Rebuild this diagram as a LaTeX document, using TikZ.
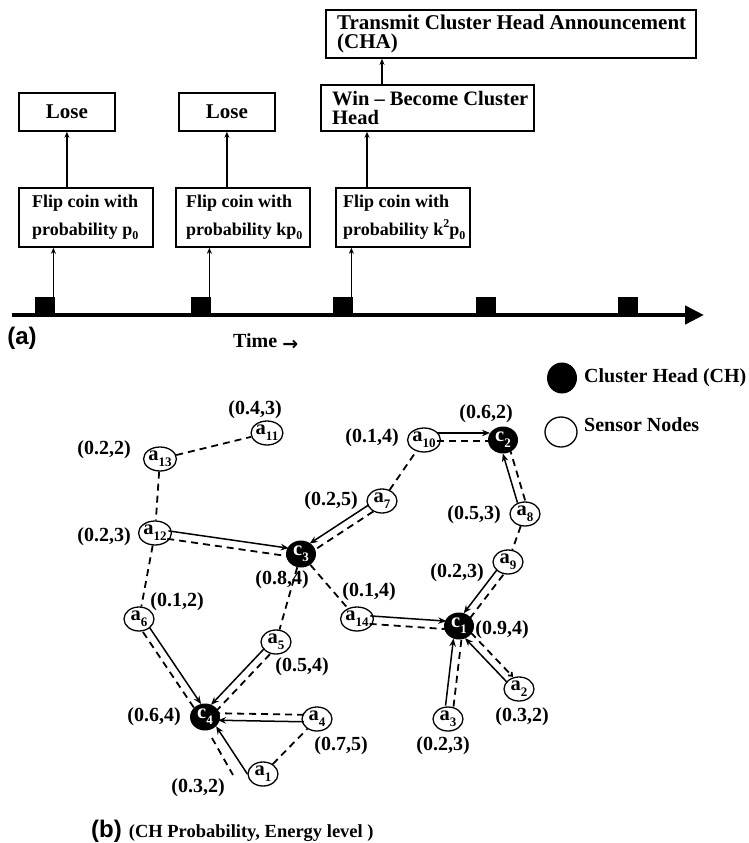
\documentclass[tikz,border=0pt]{standalone}
\usepackage{fontspec}
\setmainfont{Liberation Serif}
\newfontfamily\labfont{Liberation Sans}
\newfontfamily\arrfont{DejaVu Sans}
\usetikzlibrary{arrows.meta,calc,shapes.geometric}
\newcommand\lowtxt[1]{\raisebox{-0.28em}{\fontsize{13}{13}\selectfont #1}}
\newcommand\smlow[1]{\raisebox{-0.25em}{\fontsize{12}{12}\selectfont #1}}
\newcommand\smhigh[1]{\raisebox{0.42em}{\fontsize{12}{12}\selectfont #1}}
\begin{document}
\begin{tikzpicture}[x=1pt,y=1pt,
  box/.style={draw,line width=1.8pt,anchor=north west,inner sep=0pt},
  btxt/.style={inner sep=0pt,align=left,anchor=west},
  sq/.style={fill=black,minimum width=19.5pt,minimum height=18pt,inner sep=0pt,anchor=south west},
  uparr/.style={line width=1.4pt,-{Stealth[length=6pt,width=5pt]}},
  sensor/.style={ellipse,draw,line width=1.3pt,fill=white,minimum width=30pt,minimum height=24pt,inner sep=0pt,font=\fontsize{20.5}{20.5}\selectfont\bfseries},
  ch/.style={ellipse,fill=black,text=white,minimum width=30pt,minimum height=27pt,inner sep=0pt,font=\fontsize{20.5}{20.5}\selectfont\bfseries},
  lab/.style={inner sep=0pt,font=\fontsize{20}{20}\selectfont\bfseries},
  legtxt/.style={inner sep=0pt,anchor=west,font=\fontsize{20}{20}\selectfont\bfseries},
  leftpath/.style={to path={($(\tikztostart)!#1!90:(\tikztotarget)$) -- ($(\tikztotarget)!#1!-90:(\tikztostart)$)}},
  rightpath/.style={to path={($(\tikztostart)!#1!-90:(\tikztotarget)$) -- ($(\tikztotarget)!#1!90:(\tikztostart)$)}},
  sarr/.style={line width=1.5pt,-{Stealth[length=8pt,width=6.5pt]},shorten <=13pt,shorten >=13pt},
  dline/.style={line width=1.8pt,dash pattern=on 7pt off 5pt},
  dpair/.style={dline,shorten <=13pt,shorten >=13pt}
]
\useasboundingbox (0,0) rectangle (749,-843);

% ---------- part (a) ----------
\node[box,minimum width=370pt,minimum height=48pt] (trans) at (325,-9) {};
\node[btxt,font=\fontsize{21}{19.5}\selectfont\bfseries] (transt) at ([xshift=12pt]trans.west) {Transmit Cluster Head Announcement\\(CHA)};
\node[box,minimum width=213pt,minimum height=46pt] (win) at (320,-84) {};
\node[btxt,font=\fontsize{20.5}{19}\selectfont\bfseries] (wint) at ([xshift=12pt]win.west) {Win -- Become Cluster\\Head};
\node[box,minimum width=96pt,minimum height=38pt,font=\fontsize{21}{21}\selectfont\bfseries] (lose1) at (18,-92) {Lose};
\node[box,minimum width=96pt,minimum height=38pt,font=\fontsize{21}{21}\selectfont\bfseries] (lose2) at (178,-92) {Lose};
\node[box,minimum width=134pt,minimum height=59pt] (flip1) at (18,-187) {};
\node[box,minimum width=134pt,minimum height=59pt] (flip2) at (175,-187) {};
\node[box,minimum width=134pt,minimum height=59pt] (flip3) at (335,-187) {};
\node[btxt,font=\fontsize{18}{28}\selectfont\bfseries] (flip1t) at ([xshift=14pt]flip1.west) {Flip coin with\\probability p\smlow{0}};
\node[btxt,font=\fontsize{18}{28}\selectfont\bfseries] (flip2t) at ([xshift=11pt]flip2.west) {Flip coin with\\probability kp\smlow{0}};
\node[btxt,font=\fontsize{18}{28}\selectfont\bfseries] (flip3t) at ([xshift=8pt]flip3.west) {Flip coin with\\probability k\smhigh{2}p\smlow{0}};

\coordinate (t0) at (12,-315);
\coordinate (t1) at (704,-315);
\draw[line width=4.5pt,-{Triangle[length=19pt,width=18pt]}] (t0) -- (t1);
\node[sq] (s1) at (35,-315) {};
\node[sq] (s2) at (191,-315) {};
\node[sq] (s3) at (333,-315) {};
\node[sq] (s4) at (476,-315) {};
\node[sq] (s5) at (618,-315) {};

\draw[uparr] ([xshift=-1.5pt]s1.north east) -- ([xshift=-1.5pt]s1.north east |- flip1.south);
\draw[uparr] ([xshift=-1.5pt]s2.north east) -- ([xshift=-1.5pt]s2.north east |- flip2.south);
\draw[uparr] ([xshift=-1.5pt]s3.north east) -- ([xshift=-1.5pt]s3.north east |- flip3.south);
\draw[uparr] (lose1.south |- flip1.north) -- (lose1.south);
\draw[uparr] (lose2.south |- flip2.north) -- (lose2.south);
\draw[uparr] ([xshift=32pt]flip3.north west) -- ([xshift=32pt]flip3.north west |- win.south);
\draw[uparr] ([xshift=62pt]win.north west) -- ([xshift=62pt]win.north west |- trans.south);

\node[inner sep=0pt,font=\labfont\bfseries\fontsize{24}{24}\selectfont] (alab) at (22,-338) {(a)};
\node[inner sep=0pt,anchor=base west,font=\fontsize{20}{20}\selectfont\bfseries] (time) at (233,-347) {Time \raisebox{-3pt}{\arrfont\bfseries\fontsize{19}{19}\selectfont →}};

% ---------- legend ----------
\node[ch,minimum width=30pt,minimum height=31pt] (legch) at (562,-378) {};
\node[legtxt] (legcht) at (584,-378) {Cluster Head (CH)};
\node[sensor,minimum width=32pt,minimum height=30pt] (legsn) at (561,-432) {};
\node[legtxt] (legsnt) at (584,-425) {Sensor Nodes};

% ---------- part (b) nodes ----------
\node[sensor] (a11) at (267,-433) {a\lowtxt{11}};
\node[sensor] (a13) at (160,-459) {a\lowtxt{13}};
\node[sensor] (a12) at (155,-533) {a\lowtxt{12}};
\node[ch] (c3) at (301,-554) {c\lowtxt{3}};
\node[sensor] (a7) at (382,-501) {a\lowtxt{7}};
\node[sensor] (a10) at (424,-440) {a\lowtxt{10}};
\node[ch] (c2) at (503,-440) {c\lowtxt{2}};
\node[sensor] (a8) at (525,-514) {a\lowtxt{8}};
\node[sensor] (a9) at (508,-562) {a\lowtxt{9}};
\node[ch] (c1) at (459,-626) {c\lowtxt{1}};
\node[sensor] (a14) at (357,-619) {a\lowtxt{14}};
\node[sensor] (a6) at (139,-619) {a\lowtxt{6}};
\node[sensor] (a5) at (276,-642) {a\lowtxt{5}};
\node[ch] (c4) at (205,-717) {c\lowtxt{4}};
\node[sensor] (a4) at (317,-719) {a\lowtxt{4}};
\node[sensor] (a1) at (263,-774) {a\lowtxt{1}};
\node[sensor] (a3) at (448,-719) {a\lowtxt{3}};
\node[sensor] (a2) at (519,-689) {a\lowtxt{2}};

% ---------- labels ----------
\node[lab] (l11) at (255,-410) {(0.4,3)};
\node[lab] (l13) at (104,-450) {(0.2,2)};
\node[lab] (l12) at (104,-537) {(0.2,3)};
\node[lab] (l6) at (177,-602) {(0.1,2)};
\node[lab] (lc3) at (282,-580) {(0.8,4)};
\node[lab] (l7) at (331,-501) {(0.2,5)};
\node[lab] (l10) at (372,-438) {(0.1,4)};
\node[lab] (lc2) at (486,-414) {(0.6,2)};
\node[lab] (l8) at (474,-515) {(0.5,3)};
\node[lab] (l9) at (457,-573) {(0.2,3)};
\node[lab] (l14) at (369,-592) {(0.1,4)};
\node[lab] (lc1) at (502,-630) {(0.9,4)};
\node[lab] (l5) at (302,-667) {(0.5,4)};
\node[lab] (lc4) at (154,-717) {(0.6,4)};
\node[lab] (l4) at (341,-746) {(0.7,5)};
\node[lab] (l1) at (198,-788) {(0.3,2)};
\node[lab] (l3) at (443,-746) {(0.2,3)};
\node[lab] (l2) at (522,-717) {(0.3,2)};

\node[inner sep=0pt,anchor=west] (blab) at (91,-831) {{\labfont\bfseries\fontsize{24}{24}\selectfont (b)}\hspace{7pt}{\fontsize{18.5}{18.5}\selectfont\bfseries (CH Probability, Energy level )}};

% ---------- dashed-only links ----------
\draw[dline] (a13) -- (a11);
\draw[dline] (a13) -- (a12);
\draw[dline] (a12) -- (a6);
\draw[dline] (a7) -- (a10);
\draw[dline] (a8) -- (a9);
\draw[dline] (c3) -- (a14);
\draw[dline] (c3) -- (a5);
\draw[dline] (a1) -- (a4);

% ---------- solid arrow + dashed pairs ----------
\draw[sarr] (a12) to[leftpath=4pt] (c3);
\draw[dpair] (a12) to[rightpath=4pt] (c3);
\draw[sarr] (a7) to[rightpath=4pt] (c3);
\draw[dpair] (a7) to[leftpath=4pt] (c3);
\draw[sarr] (a10) to[leftpath=7pt] (c2);
\draw[dpair] (a10) to[rightpath=1pt] (c2);
\draw[sarr] (a8) to[leftpath=4pt] (c2);
\draw[dpair] (a8) to[rightpath=4pt] (c2);
\draw[sarr] (a9) to[rightpath=4pt] (c1);
\draw[dpair] (a9) to[leftpath=4pt] (c1);
\draw[sarr] (a14) to[leftpath=4pt] (c1);
\draw[dpair] (a14) to[rightpath=4pt] (c1);
\draw[sarr] (a6) to[leftpath=4pt] (c4);
\draw[dpair] (a6) to[rightpath=4pt] (c4);
\draw[sarr] (a5) to[rightpath=4pt] (c4);
\draw[dpair] (a5) to[leftpath=4pt] (c4);
\draw[sarr] (a4) to[leftpath=3pt] (c4);
\draw[dpair] (a4) to[rightpath=4pt] (c4);
\draw[sarr] (a3) to[leftpath=4pt] (c1);
\draw[dpair] (a3) to[rightpath=4pt] (c1);
\draw[sarr] (a2) to[leftpath=4pt] (c1);
\draw[dpair,-{Straight Barb[length=3pt,width=5pt]}] (c1) to[leftpath=4pt] (a2);
\draw[line width=1.5pt,-{Stealth[length=8pt,width=6.5pt]}] (a1.west) -- (c4.-40);
\coordinate (q1) at (212,-738);
\coordinate (q2) at (233,-775);
\draw[dline] (q1) -- (q2);
\end{tikzpicture}
\end{document}
